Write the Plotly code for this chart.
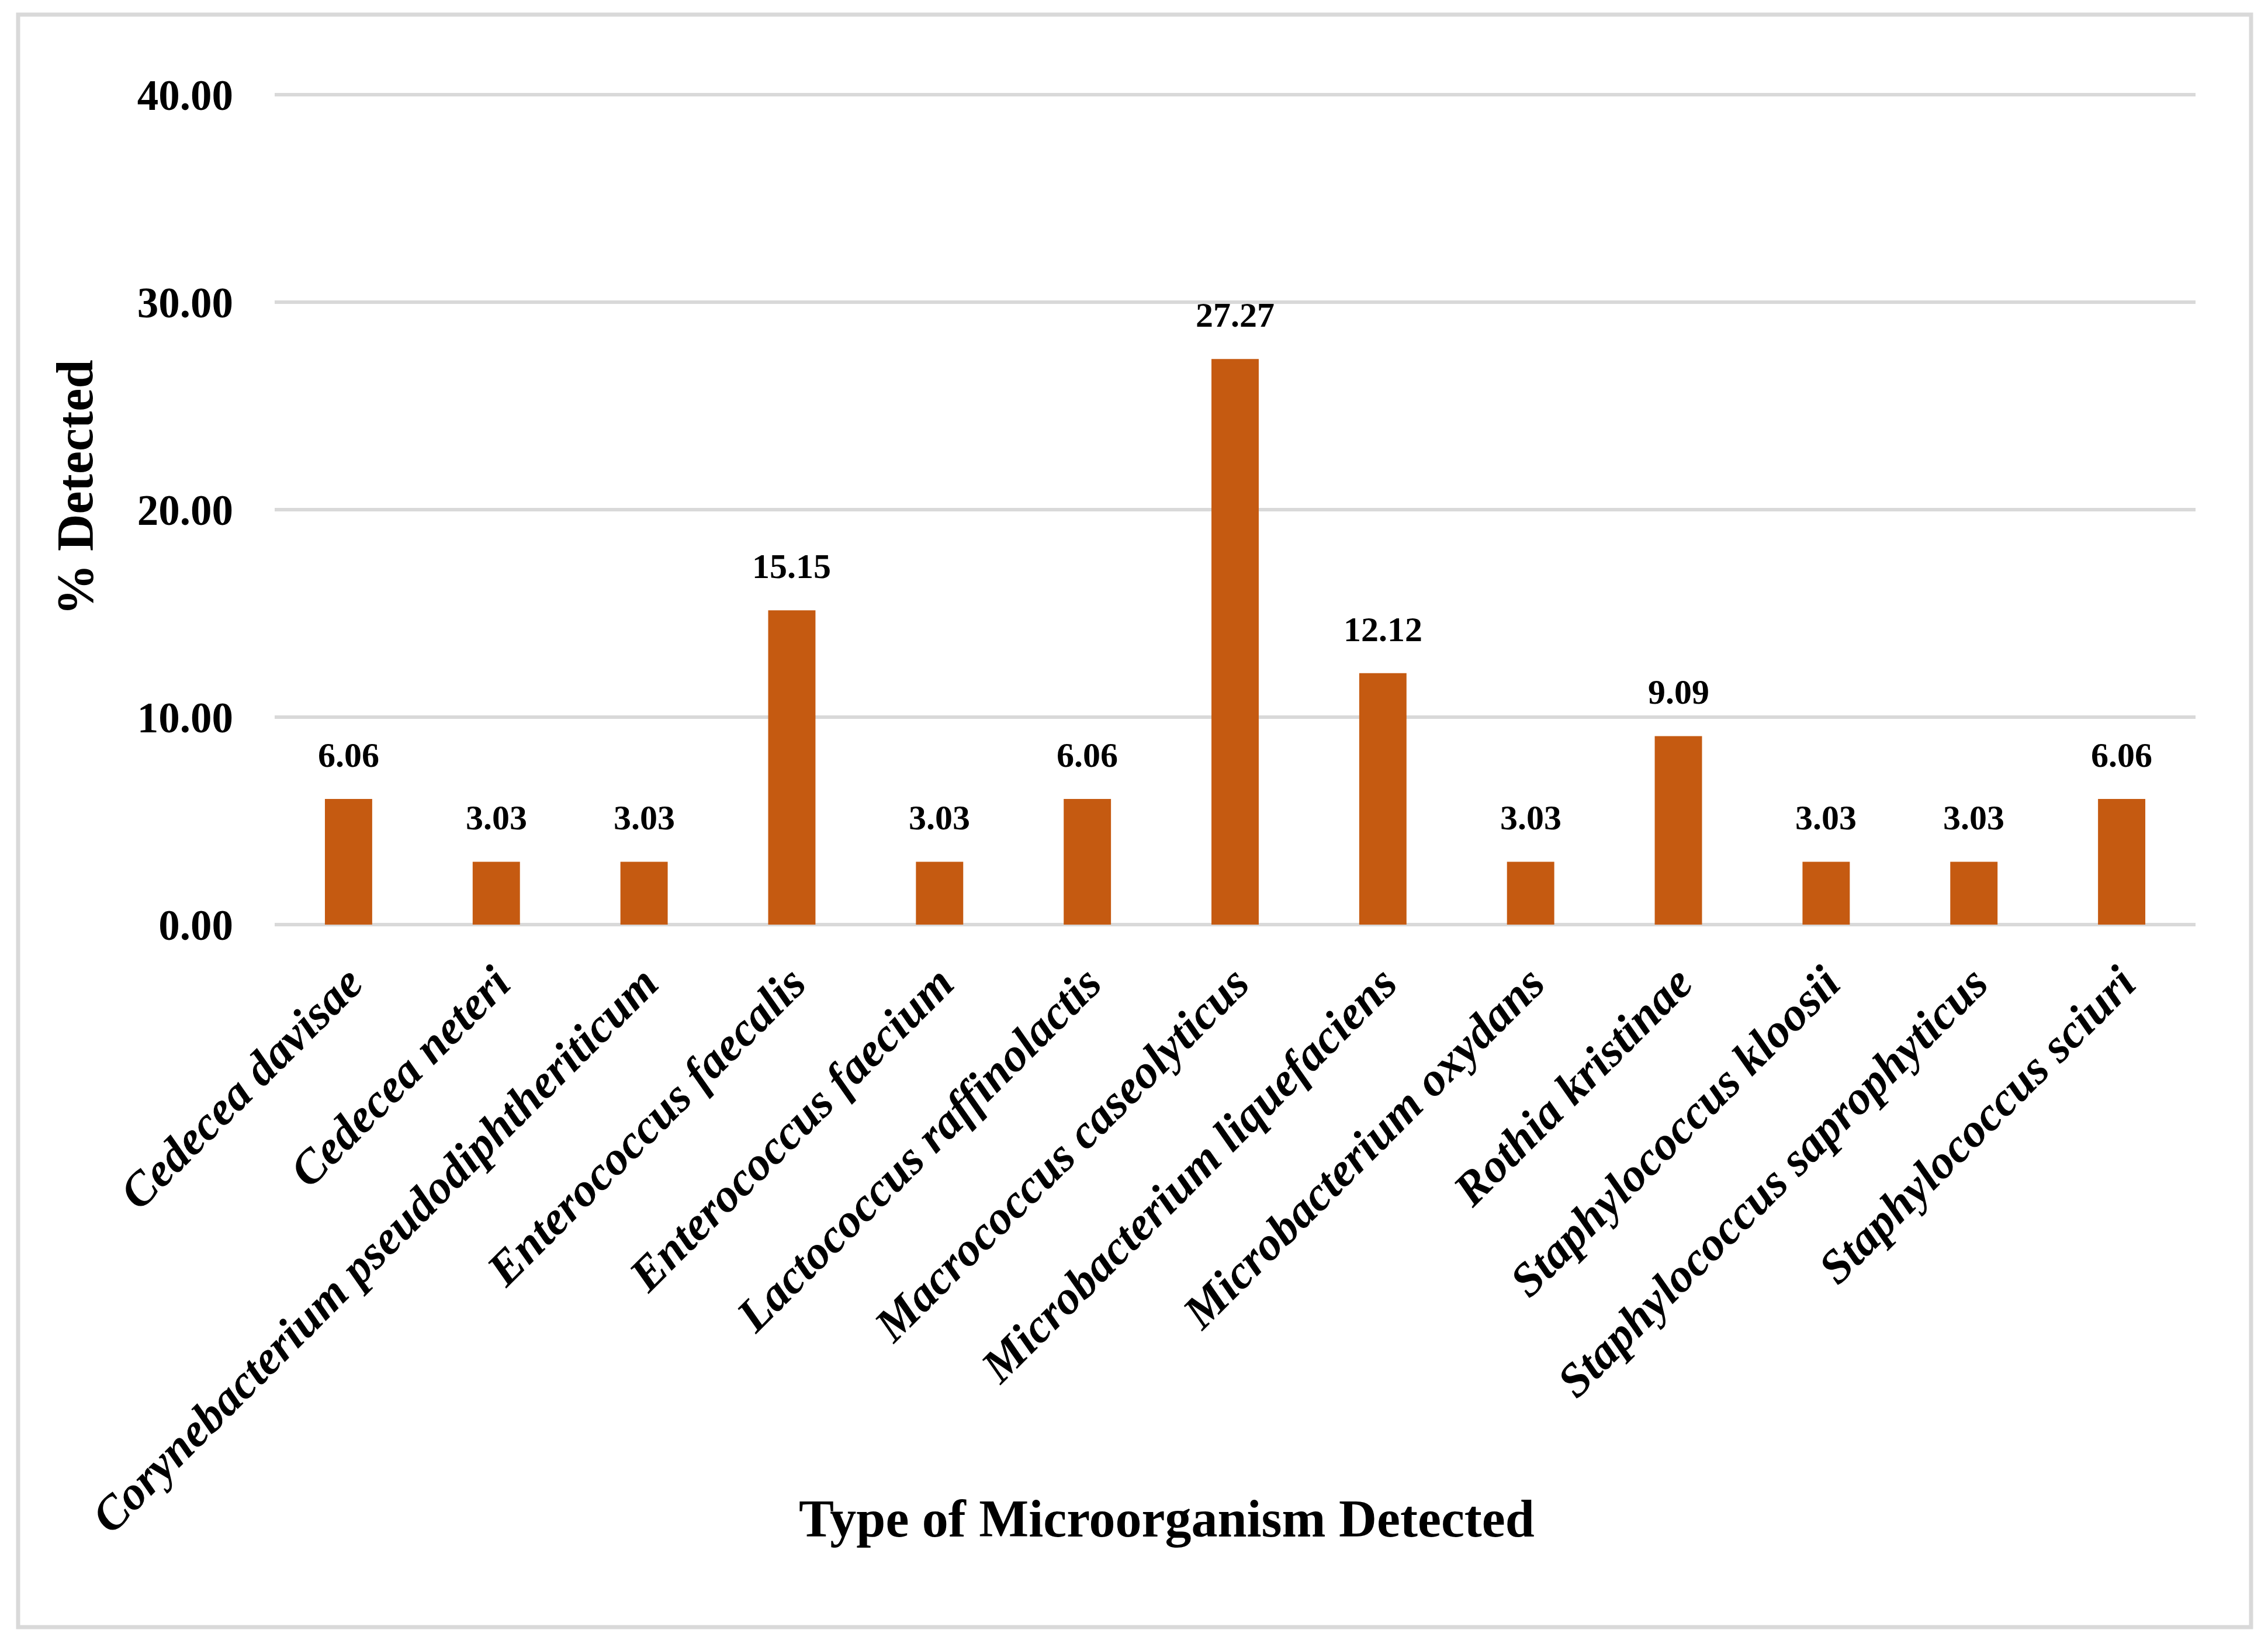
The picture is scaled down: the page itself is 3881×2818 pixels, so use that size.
import plotly.graph_objects as go

categories = [
    "Cedecea davisae",
    "Cedecea neteri",
    "Corynebacterium pseudodiphtheriticum",
    "Enterococcus faecalis",
    "Enterococcus faecium",
    "Lactococcus raffinolactis",
    "Macrococcus caseolyticus",
    "Microbacterium liquefaciens",
    "Microbacterium oxydans",
    "Rothia kristinae",
    "Staphylococcus kloosii",
    "Staphylococcus saprophyticus",
    "Staphylococcus sciuri",
]
values = [6.06, 3.03, 3.03, 15.15, 3.03, 6.06, 27.27, 12.12, 3.03, 9.09, 3.03, 3.03, 6.06]
y_ticks = [0, 10, 20, 30, 40]
y_tick_labels = ["0.00", "10.00", "20.00", "30.00", "40.00"]

# page body has a default 8px margin; positions below are screen targets
OFF = 8
W, H = 3881, 2818
Y_TOP = 40.15          # a little headroom so the 40.00 gridline is drawn in full
PX_PER_UNIT = 35.5
L = 470 - OFF
T = round(162 - OFF - (Y_TOP - 40) * PX_PER_UNIT)
R = W - (3757 - OFF)
B = H - (1582 - OFF)
pw, ph = W - L - R, H - T - B


def px_x(p):
    return (p - OFF - L) / pw


def px_y(p):
    return (H - B - (p - OFF)) / ph


SERIF = "Liberation Serif, Times New Roman, serif"
BAR = "#C55A11"
GRID = "#D9D9D9"

fig = go.Figure()
fig.add_trace(go.Bar(
    x=categories,
    y=values,
    marker=dict(color=BAR, line=dict(width=0)),
    hoverinfo="x+y",
))

annotations = []
for c, v in zip(categories, values):
    annotations.append(dict(
        x=c, y=v, xref="x", yref="y",
        text=f"<b>{v:.2f}</b>",
        showarrow=False, yanchor="bottom", xanchor="center",
        yshift=40,
        font=dict(family=SERIF, size=60, color="black"),
    ))

annotations.append(dict(
    x=px_x(128), y=px_y(835), xref="paper", yref="paper",
    text="<b>% Detected</b>", textangle=-90, showarrow=False,
    xanchor="center", yanchor="middle",
    font=dict(family=SERIF, size=88, color="black"),
))
annotations.append(dict(
    x=px_x(1996), y=px_y(2598), xref="paper", yref="paper",
    text="<b>Type of Microorganism Detected</b>", showarrow=False,
    xanchor="center", yanchor="middle",
    font=dict(family=SERIF, size=90, color="black"),
))

fig.update_layout(
    width=W, height=H,
    margin=dict(l=L, r=R, t=T, b=B, autoexpand=False),
    paper_bgcolor="white", plot_bgcolor="white",
    showlegend=False,
    bargap=0.68,
    annotations=annotations,
    shapes=[
        dict(
            type="rect", xref="paper", yref="paper",
            x0=px_x(31), x1=px_x(3852), y0=px_y(2784), y1=px_y(25),
            line=dict(color=GRID, width=7), fillcolor="rgba(0,0,0,0)",
            layer="below",
        ),
    ],
)

fig.update_xaxes(
    type="category",
    showgrid=False, showline=False, zeroline=False, ticks="",
    tickangle=-45,
    ticklabelstandoff=35,
    tickfont=dict(family=SERIF, size=81, color="black", weight="bold", style="italic"),
    automargin=False,
)
fig.update_yaxes(
    range=[0, Y_TOP],
    tickvals=y_ticks, ticktext=[f"<b>{t}</b>" for t in y_tick_labels],
    showgrid=True, gridcolor=GRID, gridwidth=6,
    zeroline=True, zerolinecolor=GRID, zerolinewidth=6,
    showline=False, ticks="",
    ticklabelstandoff=70,
    tickfont=dict(family=SERIF, size=73, color="black"),
    automargin=False,
)

fig.write_html("out.html")
